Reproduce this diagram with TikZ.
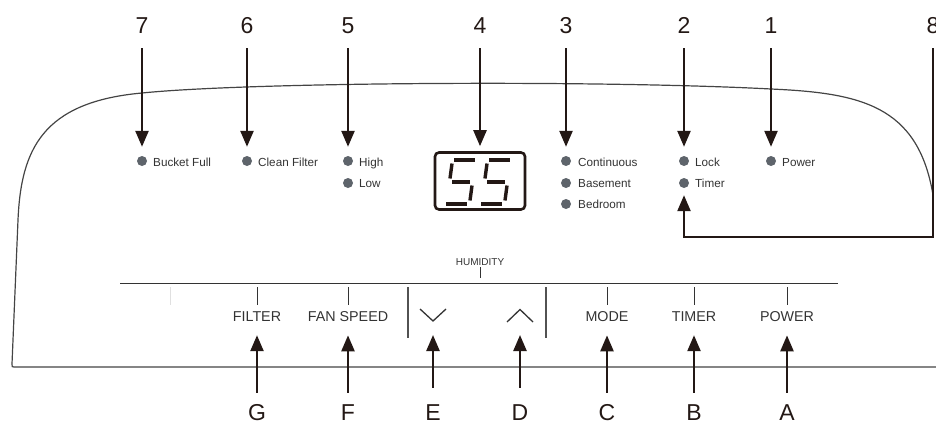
\documentclass[tikz,border=0pt]{standalone}
\usepackage{fontspec}
\setmainfont{Liberation Sans}
\usetikzlibrary{arrows.meta}
\definecolor{ink}{HTML}{231815}
\definecolor{ledgray}{HTML}{5E646B}
\definecolor{txt}{HTML}{333333}
\definecolor{panelc}{HTML}{444444}
\begin{document}
\begin{tikzpicture}[x=1pt,y=-1pt,
  num/.style={font=\fontsize{23}{23}\selectfont, text=ink, inner sep=0pt, anchor=base},
  led/.style={circle, fill=ledgray, minimum size=10pt, inner sep=0pt},
  ledlbl/.style={font=\fontsize{11.7}{12}\selectfont, text=txt, inner sep=0pt, anchor=base west},
  btn/.style={font=\fontsize{14.3}{15}\selectfont, text=txt, inner sep=0pt, anchor=base},
  arr/.style={draw=ink, line width=2.4pt, -{Triangle[width=13pt,length=16pt]}},
  panel/.style={draw=panelc, line width=1.2pt},
  thin/.style={draw=txt, line width=1pt},
  divider/.style={draw=txt!85, line width=1.3pt},
  seg/.style={draw=ink, line width=3.4pt, line cap=butt}]
\useasboundingbox (0,0) rectangle (936,423);

% panel outline
\draw[panel] (936,367) -- (14,367) .. controls (12,367) .. (12,364) -- (18,220)
  .. controls (21,150) and (42,102) .. (142,93)
  .. controls (250,82) and (600,80) .. (771,89)
  .. controls (860,93) and (918,105) .. (933,195);

% numbers
\node[num] (n7) at (142,33) {7};
\node[num] (n6) at (247,33) {6};
\node[num] (n5) at (348,33) {5};
\node[num] (n4) at (480,33) {4};
\node[num] (n3) at (566,33) {3};
\node[num] (n2) at (684,33) {2};
\node[num] (n1) at (771,33) {1};
\node[num] (n8) at (933,33) {8};

% LEDs
\node[led] (lbucket) at (142,161) {};
\node[led] (lclean)  at (247,161) {};
\node[led] (lhigh)   at (348,161) {};
\node[led] (llow)    at (348,183) {};
\node[led] (lcont)   at (566,161) {};
\node[led] (lbase)   at (566,183) {};
\node[led] (lbed)    at (566,204) {};
\node[led] (llock)   at (684,161) {};
\node[led] (ltimer)  at (684,183) {};
\node[led] (lpower)  at (771,161) {};

\node[ledlbl] (tbucket) at (153,166) {Bucket Full};
\node[ledlbl] (tclean)  at (258,166) {Clean Filter};
\node[ledlbl] (thigh)   at (359,166) {High};
\node[ledlbl] (tlow)    at (359,187.5) {Low};
\node[ledlbl] (tcont)   at (578,166) {Continuous};
\node[ledlbl] (tbase)   at (578,187.5) {Basement};
\node[ledlbl] (tbed)    at (578,208.5) {Bedroom};
\node[ledlbl] (tlock)   at (695,166) {Lock};
\node[ledlbl] (ttimer)  at (695,187.5) {Timer};
\node[ledlbl] (tpower)  at (782,166) {Power};

% display
\node[draw=ink, line width=2.6pt, rounded corners=4pt, minimum width=90pt,
      minimum height=57pt, inner sep=0pt] (disp) at (480,181) {};
\foreach \dx in {0,35} {
  \begin{scope}[shift={(\dx,0)}]
    \draw[seg] (454,160) -- (475,160);
    \draw[seg] (452,163.5) -- (450,178.5);
    \draw[seg] (452,182) -- (470,182);
    \draw[seg] (472,185.5) -- (470,200.5);
    \draw[seg] (446,204) -- (467,204);
  \end{scope}
}

% top arrows
\draw[arr, shorten <=15pt, shorten >=9pt] (n7) -- (lbucket);
\draw[arr, shorten <=15pt, shorten >=9pt] (n6) -- (lclean);
\draw[arr, shorten <=15pt, shorten >=9pt] (n5) -- (lhigh);
\draw[arr, shorten <=15pt, shorten >=5pt] (n4) -- (disp);
\draw[arr, shorten <=15pt, shorten >=9pt] (n3) -- (lcont);
\draw[arr, shorten <=15pt, shorten >=9pt] (n2) -- (llock);
\draw[arr, shorten <=15pt, shorten >=9pt] (n1) -- (lpower);
\coordinate (c8) at (933,237);
\draw[arr, shorten <=15pt, shorten >=7pt] (n8) -- (c8) -| (ltimer);

% button strip
\draw[thin] (120,283) -- (838,283);
\node[font=\fontsize{10}{10}\selectfont, text=txt, inner sep=0pt, anchor=base] (hum) at (480,265) {HUMIDITY};
\draw[thin] (480,267) -- (480,278);
\draw[draw=black!12, line width=1pt] (170,287) -- (170,305);
\foreach \x in {257,348,607,694,787} { \draw[thin] (\x,287) -- (\x,305); }
\draw[divider] (408,287) -- (408,338);
\draw[divider] (546,287) -- (546,338);
\draw[draw=txt, line width=1.3pt] (420,309) -- (433,321) -- (446,309);
\draw[draw=txt, line width=1.3pt] (507,322) -- (520,309.5) -- (533,322);
\coordinate (cdown) at (433,322);
\coordinate (cup) at (520,322);

\node[btn] (bfilter) at (257,321) {FILTER};
\node[btn] (bfan)    at (348,321) {FAN SPEED};
\node[btn] (bmode)   at (607,321) {MODE};
\node[btn] (btimer)  at (694,321) {TIMER};
\node[btn] (bpower)  at (787,321) {POWER};

% bottom letters
\node[num] (G) at (257,420) {G};
\node[num] (F) at (348,420) {F};
\node[num] (E) at (433,420) {E};
\node[num] (D) at (520,420) {D};
\node[num] (C) at (607,420) {C};
\node[num] (B) at (694,420) {B};
\node[num] (A) at (787,420) {A};

\draw[arr, shorten <=11pt, shorten >=14pt] (G) -- (bfilter);
\draw[arr, shorten <=11pt, shorten >=14pt] (F) -- (bfan);
\draw[arr, shorten <=16pt, shorten >=13pt] (E) -- (cdown);
\draw[arr, shorten <=16pt, shorten >=13pt] (D) -- (cup);
\draw[arr, shorten <=11pt, shorten >=14pt] (C) -- (bmode);
\draw[arr, shorten <=11pt, shorten >=14pt] (B) -- (btimer);
\draw[arr, shorten <=11pt, shorten >=14pt] (A) -- (bpower);
\end{tikzpicture}
\end{document}
